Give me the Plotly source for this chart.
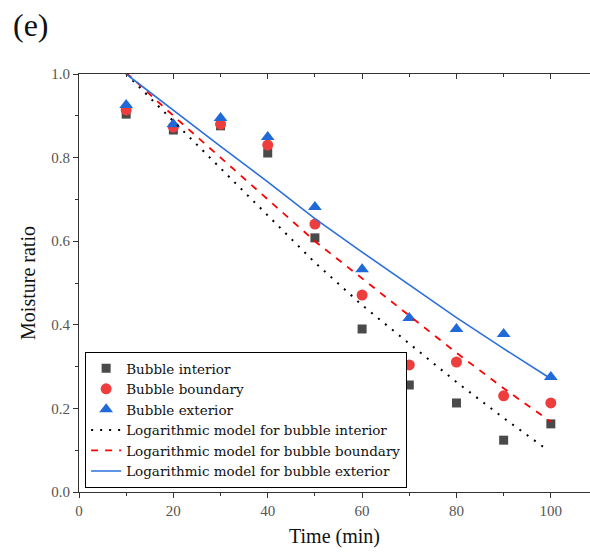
import plotly.graph_objects as go

time = [10, 20, 30, 40, 50, 60, 70, 80, 90, 100]
interior = [0.904, 0.866, 0.876, 0.811, 0.608, 0.390, 0.256, 0.213, 0.124, 0.163]
boundary = [0.914, 0.873, 0.880, 0.830, 0.641, 0.471, 0.304, 0.311, 0.230, 0.213]
exterior = [0.926, 0.880, 0.895, 0.849, 0.682, 0.533, 0.416, 0.390, 0.378, 0.275]

model_time_interior = [10, 20, 30, 40, 50, 60, 70, 80, 90, 99]
model_interior = [1.000, 0.887, 0.775, 0.662, 0.549, 0.447, 0.355, 0.263, 0.177, 0.103]
model_time = [10, 20, 30, 40, 50, 60, 70, 80, 90, 100]
model_boundary = [1.003, 0.900, 0.800, 0.700, 0.600, 0.511, 0.422, 0.333, 0.248, 0.168]
model_exterior = [1.000, 0.913, 0.827, 0.742, 0.654, 0.574, 0.495, 0.417, 0.343, 0.271]

FONT = "Liberation Serif"

fig = go.Figure()
fig.add_trace(go.Scatter(x=time, y=interior, mode="markers", name="Bubble interior",
                         marker=dict(symbol="square", size=9, color="#4a4a4a")))
fig.add_trace(go.Scatter(x=time, y=boundary, mode="markers", name="Bubble boundary",
                         marker=dict(symbol="circle", size=11, color="#ee3d3d")))
fig.add_trace(go.Scatter(x=time, y=exterior, mode="markers", name="Bubble exterior",
                         marker=dict(symbol="triangle-up", size=12, color="#1f6ad8")))
fig.add_trace(go.Scatter(x=model_time_interior, y=model_interior, mode="lines",
                         name="Logarithmic model for bubble interior",
                         line=dict(color="black", dash="2px,7px", width=2)))
fig.add_trace(go.Scatter(x=model_time, y=model_boundary, mode="lines",
                         name="Logarithmic model for bubble boundary",
                         line=dict(color="#ff0000", dash="7px,7px", width=1.8)))
fig.add_trace(go.Scatter(x=model_time, y=model_exterior, mode="lines",
                         name="Logarithmic model for bubble exterior",
                         line=dict(color="#2a6fdb", width=1.6)))
# invisible trace to carry the mirrored top axis
fig.add_trace(go.Scatter(x=[0], y=[0], xaxis="x2", mode="markers",
                         marker=dict(opacity=0), showlegend=False, hoverinfo="skip"))

fig.update_layout(
    width=590, height=557,
    margin=dict(l=79, r=0, t=74, b=65, autoexpand=False),
    paper_bgcolor="white", plot_bgcolor="white",
    font=dict(family=FONT, color="#222"),
    showlegend=True,
    legend=dict(x=0.012, y=0.335, xanchor="left", yanchor="top",
                bgcolor="white", bordercolor="black", borderwidth=1,
                font=dict(family="DejaVu Serif", size=13.5, color="#111"),
                tracegroupgap=0, itemwidth=30),
    xaxis=dict(range=[0, 108.3], tickvals=[0, 20, 40, 60, 80, 100],
               ticks="outside", ticklen=5, tickcolor="#333",
               minor=dict(tickvals=[10, 30, 50, 70, 90], ticks="outside", ticklen=3, tickcolor="#333"),
               showline=True, linecolor="#333", linewidth=1.2,
               showgrid=False, zeroline=False, automargin=False,
               tickfont=dict(family=FONT, size=15, color="#555"),
               title=dict(text="Time (min)", font=dict(family=FONT, size=20, color="#111"), standoff=10)),
    xaxis2=dict(range=[0, 108.3], overlaying="x", side="top", anchor="y",
                tickvals=[0, 20, 40, 60, 80, 100], ticks="inside", ticklen=5, tickcolor="#333",
                minor=dict(tickvals=[10, 30, 50, 70, 90], ticks="inside", ticklen=3, tickcolor="#333"),
                showline=True, linecolor="#333", linewidth=1.2, automargin=False,
                showticklabels=False, showgrid=False, zeroline=False),
    yaxis=dict(range=[0, 1.0], tickvals=[0, 0.2, 0.4, 0.6, 0.8, 1.0],
               ticktext=["0.0", "0.2", "0.4", "0.6", "0.8", "1.0"],
               ticks="outside", ticklen=5, tickcolor="#333",
               minor=dict(tickvals=[0.1, 0.3, 0.5, 0.7, 0.9], ticks="outside", ticklen=3, tickcolor="#333"),
               showline=True, linecolor="#333", linewidth=1.2,
               showgrid=False, zeroline=False, automargin=False,
               tickfont=dict(family=FONT, size=15, color="#555"),
               title=dict(text="Moisture ratio", font=dict(family=FONT, size=20, color="#111"), standoff=10)),
    annotations=[dict(text="(e)", xref="paper", yref="paper", x=-0.133, y=1.165,
                      xanchor="left", yanchor="top", showarrow=False,
                      font=dict(family=FONT, size=32, color="#111"))],
)

fig.write_html("out.html", config={"displayModeBar": False},
               post_script="document.body.style.margin='0px';")
